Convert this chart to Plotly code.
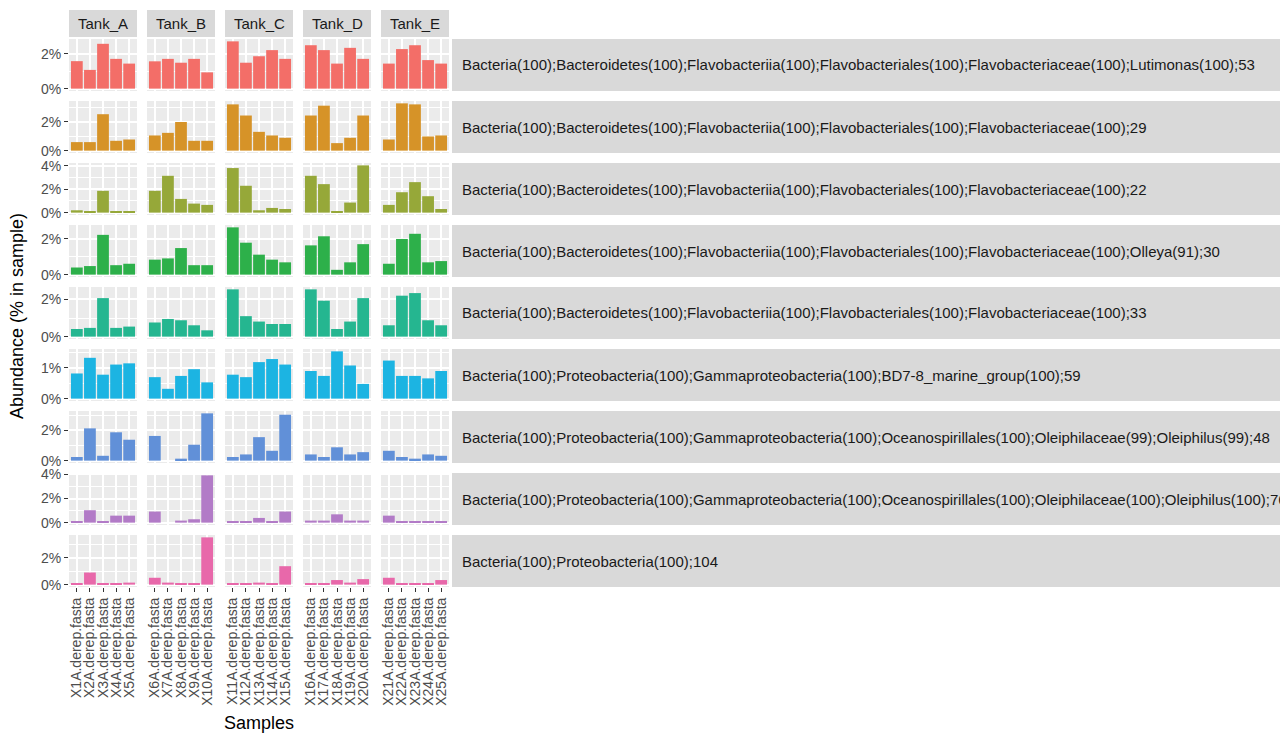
import plotly.graph_objects as go

# ---------------- data ----------------
tanks = ["Tank_A", "Tank_B", "Tank_C", "Tank_D", "Tank_E"]
samples = [f"X{i}A.derep.fasta" for i in range(1, 26)]

taxa = [
    "Bacteria(100);Bacteroidetes(100);Flavobacteriia(100);Flavobacteriales(100);Flavobacteriaceae(100);Lutimonas(100);53",
    "Bacteria(100);Bacteroidetes(100);Flavobacteriia(100);Flavobacteriales(100);Flavobacteriaceae(100);29",
    "Bacteria(100);Bacteroidetes(100);Flavobacteriia(100);Flavobacteriales(100);Flavobacteriaceae(100);22",
    "Bacteria(100);Bacteroidetes(100);Flavobacteriia(100);Flavobacteriales(100);Flavobacteriaceae(100);Olleya(91);30",
    "Bacteria(100);Bacteroidetes(100);Flavobacteriia(100);Flavobacteriales(100);Flavobacteriaceae(100);33",
    "Bacteria(100);Proteobacteria(100);Gammaproteobacteria(100);BD7-8_marine_group(100);59",
    "Bacteria(100);Proteobacteria(100);Gammaproteobacteria(100);Oceanospirillales(100);Oleiphilaceae(99);Oleiphilus(99);48",
    "Bacteria(100);Proteobacteria(100);Gammaproteobacteria(100);Oceanospirillales(100);Oleiphilaceae(100);Oleiphilus(100);76",
    "Bacteria(100);Proteobacteria(100);104",
]

# abundance (%) per sample, X1A..X25A
lutimonas_53 = [1.57, 1.07, 2.56, 1.70, 1.43, 1.56, 1.70, 1.48, 1.70, 0.93,
                2.70, 1.48, 1.85, 2.20, 1.70, 2.48, 2.20, 1.43, 2.33, 1.70,
                1.43, 2.26, 2.48, 1.63, 1.43]
flavo_29 = [0.59, 0.59, 2.52, 0.68, 0.77, 1.05, 1.23, 1.98, 0.68, 0.68,
            3.20, 2.43, 1.30, 1.05, 0.89, 2.43, 3.11, 0.52, 0.89, 2.43,
            0.77, 3.27, 3.20, 0.98, 1.05]
flavo_22 = [0.20, 0.09, 1.86, 0.11, 0.11, 1.86, 3.14, 1.17, 0.77, 0.66,
            3.80, 2.29, 0.20, 0.40, 0.31, 3.14, 2.43, 0.06, 0.86, 4.03,
            0.66, 1.74, 2.60, 1.40, 0.31]
olleya_30 = [0.40, 0.48, 2.23, 0.53, 0.61, 0.84, 0.91, 1.49, 0.53, 0.53,
             2.65, 1.79, 1.12, 0.84, 0.69, 1.64, 2.15, 0.27, 0.69, 1.71,
             0.61, 2.00, 2.29, 0.69, 0.76]
flavo_33 = [0.41, 0.47, 2.07, 0.47, 0.54, 0.76, 0.95, 0.88, 0.61, 0.34,
            2.54, 1.10, 0.81, 0.68, 0.68, 2.54, 1.93, 0.41, 0.81, 2.07,
            0.61, 2.20, 2.34, 0.88, 0.61]
bd7_8_59 = [0.82, 1.33, 0.78, 1.11, 1.15, 0.70, 0.32, 0.74, 0.96, 0.53,
            0.78, 0.70, 1.19, 1.29, 1.11, 0.90, 0.74, 1.54, 1.08, 0.48,
            1.24, 0.74, 0.74, 0.66, 0.90]
oleiphilus_48 = [0.24, 2.13, 0.32, 1.87, 1.38, 1.63, 0.00, 0.13, 1.05, 3.12,
                 0.24, 0.41, 1.55, 0.65, 3.03, 0.41, 0.24, 0.88, 0.41, 0.56,
                 0.65, 0.24, 0.13, 0.41, 0.32]
oleiphilus_76 = [0.06, 1.03, 0.06, 0.58, 0.58, 0.92, 0.00, 0.17, 0.28, 3.92,
                 0.06, 0.06, 0.39, 0.06, 0.92, 0.17, 0.17, 0.69, 0.17, 0.17,
                 0.58, 0.06, 0.06, 0.06, 0.06]
proteo_104 = [0.05, 0.90, 0.05, 0.05, 0.15, 0.51, 0.15, 0.05, 0.05, 3.51,
              0.05, 0.05, 0.15, 0.05, 1.37, 0.05, 0.05, 0.34, 0.15, 0.41,
              0.51, 0.05, 0.05, 0.05, 0.34]

values = [lutimonas_53, flavo_29, flavo_22, olleya_30, flavo_33,
          bd7_8_59, oleiphilus_48, oleiphilus_76, proteo_104]
major_step = [2, 2, 2, 2, 2, 1, 2, 2, 2]

colors = ["#F36E68", "#D69328", "#96A839", "#2DB04A", "#25B690",
          "#1CB4E2", "#6190D8", "#B27BC7", "#E868AA"]

# ---------------- layout geometry (pixels) ----------------
W, H = 1280, 733
col_x0, col_w, col_step = 69, 68, 78
row_y0, row_h, row_step = 39, 52, 62

def px_x(p):
    return p / W

def px_y(p):
    return 1 - p / H

fig = go.Figure()
shapes = []
annotations = []
font_fam = "Liberation Sans, Arial, sans-serif"
TXT = 15
TICK = 14

for r in range(len(taxa)):
    vals = values[r]
    vmax = max(vals)
    yr = [-0.05 * vmax, 1.05 * vmax]
    ytop = row_y0 + r * row_step
    ybot = ytop + row_h
    for c in range(len(tanks)):
        k = r * len(tanks) + c + 1
        xs = samples[c * 5:(c + 1) * 5]
        ys = vals[c * 5:(c + 1) * 5]
        xname = "x" if k == 1 else f"x{k}"
        yname = "y" if k == 1 else f"y{k}"
        fig.add_trace(go.Bar(x=xs, y=ys, xaxis=xname, yaxis=yname,
                             marker=dict(color=colors[r], line=dict(width=0)),
                             showlegend=False, hoverinfo="x+y"))
        x0 = col_x0 + c * col_step
        x1 = x0 + col_w
        xa = dict(domain=[px_x(x0), px_x(x1)], anchor=yname, type="category",
                  categoryorder="array", categoryarray=xs,
                  showgrid=True, gridcolor="white", gridwidth=1.5,
                  zeroline=False, showline=False, dtick=1, tickmode="linear",
                  range=[-0.6, 4.6], fixedrange=True, automargin=False)
        if r == len(taxa) - 1:
            xa.update(showticklabels=True, tickangle=-90, ticks="outside",
                      ticklen=4, tickcolor="#333333", tickwidth=1.2,
                      tickfont=dict(size=TICK, color="#4D4D4D", family=font_fam))
        else:
            xa.update(showticklabels=False, ticks="")
        ya = dict(domain=[px_y(ybot), px_y(ytop)], anchor=xname,
                  range=yr, dtick=major_step[r], tick0=0, ticksuffix="%",
                  showgrid=True, gridcolor="white", gridwidth=1.5,
                  minor=dict(dtick=major_step[r] / 2, tick0=0, showgrid=True,
                             gridcolor="white", gridwidth=0.7, ticks=""),
                  zeroline=False, showline=False, fixedrange=True, automargin=False)
        if c == 0:
            ya.update(showticklabels=True, ticks="outside", ticklen=4,
                      tickcolor="#333333", tickwidth=1.2,
                      tickfont=dict(size=TICK, color="#4D4D4D", family=font_fam))
        else:
            ya.update(showticklabels=False, ticks="")
        fig.layout[("xaxis" if k == 1 else f"xaxis{k}")] = xa
        fig.layout[("yaxis" if k == 1 else f"yaxis{k}")] = ya

    # right strip
    shapes.append(dict(type="rect", xref="paper", yref="paper",
                       x0=px_x(452), x1=px_x(1300), y0=px_y(ybot), y1=px_y(ytop),
                       fillcolor="#D9D9D9", line=dict(width=0), layer="below"))
    annotations.append(dict(x=px_x(460), y=px_y((ytop + ybot) / 2), xref="paper", yref="paper",
                            text=taxa[r], showarrow=False, xanchor="left", yanchor="middle",
                            font=dict(size=TXT, color="#1A1A1A", family=font_fam)))

# top strips
for c in range(len(tanks)):
    x0 = col_x0 + c * col_step
    x1 = x0 + col_w
    shapes.append(dict(type="rect", xref="paper", yref="paper",
                       x0=px_x(x0), x1=px_x(x1), y0=px_y(37), y1=px_y(10),
                       fillcolor="#D9D9D9", line=dict(width=0), layer="below"))
    annotations.append(dict(x=px_x((x0 + x1) / 2), y=px_y(24), xref="paper", yref="paper",
                            text=tanks[c], showarrow=False, xanchor="center", yanchor="middle",
                            font=dict(size=TXT, color="#1A1A1A", family=font_fam)))

# axis titles
annotations.append(dict(x=px_x(259), y=px_y(723), xref="paper", yref="paper",
                        text="Samples", showarrow=False, xanchor="center", yanchor="middle",
                        font=dict(size=18, color="#000000", family=font_fam)))
annotations.append(dict(x=px_x(17), y=px_y(316), xref="paper", yref="paper",
                        text="Abundance (% in sample)", showarrow=False, textangle=-90,
                        xanchor="center", yanchor="middle",
                        font=dict(size=18, color="#000000", family=font_fam)))

fig.update_layout(width=W, height=H, margin=dict(l=0, r=0, t=0, b=0, autoexpand=False),
                  paper_bgcolor="white", plot_bgcolor="#EBEBEB",
                  bargap=0.1, showlegend=False,
                  shapes=shapes, annotations=annotations,
                  font=dict(family=font_fam))

fig.write_html("out.html", config={"displayModeBar": False},
               post_script="document.body.style.margin='0';document.body.style.overflow='hidden';")
